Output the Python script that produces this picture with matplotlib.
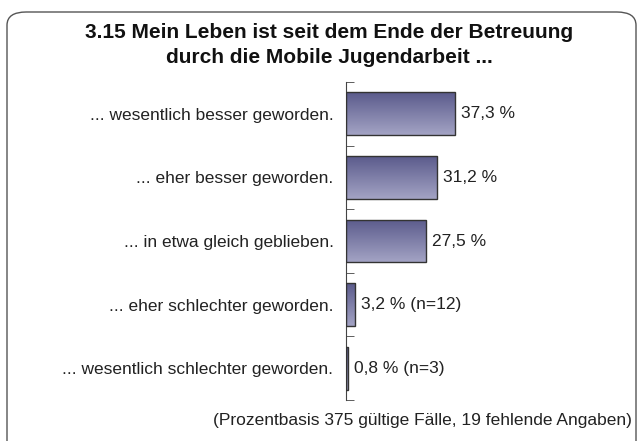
import numpy as np
import matplotlib
matplotlib.use("Agg")
import matplotlib.pyplot as plt
from matplotlib.patches import FancyBboxPatch
from matplotlib.colors import LinearSegmentedColormap

# Data
categories = [
    "... wesentlich besser geworden.",
    "... eher besser geworden.",
    "... in etwa gleich geblieben.",
    "... eher schlechter geworden.",
    "... wesentlich schlechter geworden.",
]
values = [37.3, 31.2, 27.5, 3.2, 0.8]
value_labels = ["37,3 %", "31,2 %", "27,5 %", "3,2 % (n=12)", "0,8 % (n=3)"]

title = "3.15 Mein Leben ist seit dem Ende der Betreuung\ndurch die Mobile Jugendarbeit ..."
footnote = "(Prozentbasis 375 gültige Fälle, 19 fehlende Angaben)"

plt.rcParams["font.family"] = ["Liberation Sans", "DejaVu Sans"]

fig = plt.figure(figsize=(6.41, 4.41), dpi=100)

# rounded frame around the whole chart
frame = FancyBboxPatch((7 / 641, -0.2), 629 / 641, (441 - 12) / 441 + 0.2,
                       boxstyle="round,pad=0,rounding_size=0.03",
                       transform=fig.transFigure, facecolor="none",
                       edgecolor="#555555", linewidth=1.0, zorder=-1)
fig.patches.append(frame)

ax = fig.add_axes([346 / 641, 41 / 441, 292 / 641, 318 / 441])
ax.set_facecolor("none")

y = np.arange(len(categories))
bars = ax.barh(y, values, height=0.67, color="none", edgecolor="#333333",
               linewidth=1.0, zorder=3)

# vertical gradient inside each bar (dark top, lighter bottom)
cmap = LinearSegmentedColormap.from_list("bar", ["#5b5b8c", "#a3a3c4"])
grad = np.linspace(0, 1, 100).reshape(-1, 1)
for b in bars:
    x0, y0 = b.get_x(), b.get_y()
    w, h = b.get_width(), b.get_height()
    im = ax.imshow(grad, cmap=cmap, aspect="auto",
                   extent=(x0, x0 + w, y0 + h, y0), zorder=2)
    im.set_clip_path(b)

ax.set_xlim(0, 100)
ax.set_ylim(len(categories) - 0.5, -0.5)

for i, (v, lab) in enumerate(zip(values, value_labels)):
    ax.text(v + 2.0, i, lab, va="center", ha="left", fontsize=12.5,
            color="#222222")

ax.set_yticks(y)
ax.set_yticklabels(categories, fontsize=12.5, color="#222222")
ax.tick_params(axis="y", which="major", length=0, pad=9)
ax.set_yticks(np.arange(-0.5, len(categories)), minor=True)
ax.tick_params(axis="y", which="minor", direction="in", length=6,
               color="#444444")
ax.set_xticks([])
for s in ["top", "right", "bottom"]:
    ax.spines[s].set_visible(False)
ax.spines["left"].set_color("#444444")

fig.text(329 / 641, 1 - 45 / 441, title, ha="center", va="center",
         fontsize=15, fontweight="bold", linespacing=1.4, color="#111111")
fig.text(632 / 641, 1 - 420 / 441, footnote, ha="right", va="center",
         fontsize=12.5, color="#222222")

fig.savefig("out.png", dpi=100)
